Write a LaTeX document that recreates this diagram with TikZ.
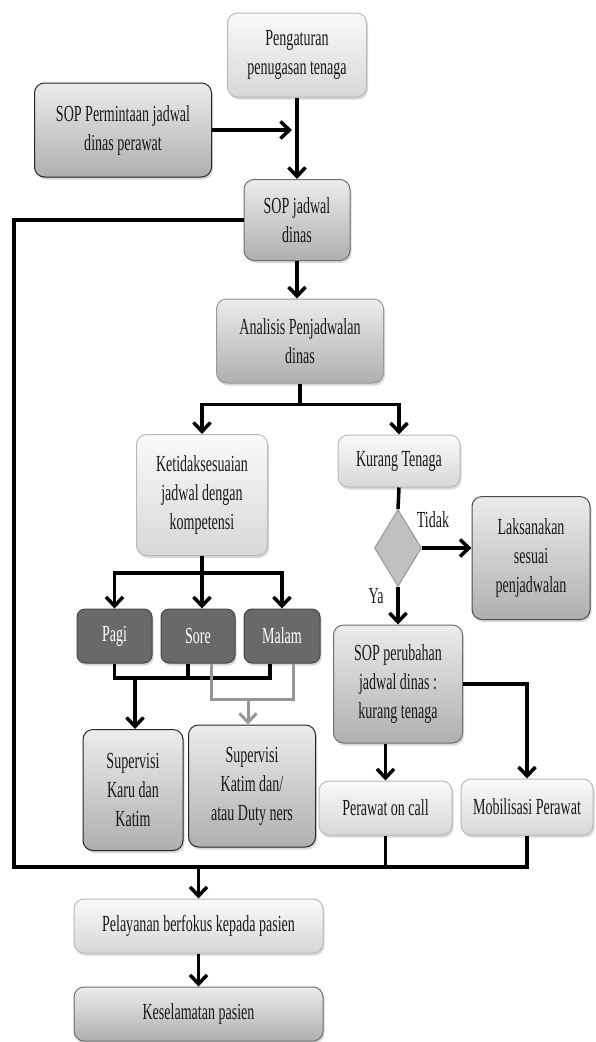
\documentclass[tikz,border=0pt]{standalone}
\usepackage{fontspec}
\setmainfont{Liberation Serif}[FakeStretch=0.61]
\usepackage{tikz}
\usetikzlibrary{shapes.geometric, arrows.meta, shadows}
\definecolor{lighttop}{RGB}{250,250,250}
\definecolor{lightbot}{RGB}{215,215,215}
\definecolor{lightedge}{RGB}{185,185,185}
\definecolor{midtop}{RGB}{236,236,236}
\definecolor{midbot}{RGB}{175,175,175}
\definecolor{midedge}{RGB}{110,110,110}
\definecolor{darkfill}{RGB}{105,105,105}
\definecolor{darkedge}{RGB}{70,70,70}
\definecolor{diafill}{RGB}{192,192,192}
\definecolor{linegrey}{RGB}{150,150,150}
\definecolor{inkblack}{RGB}{25,25,25}

\begin{document}
\begin{tikzpicture}[x=1pt, y=-1pt,
  font=\fontsize{23}{29}\selectfont, text=inkblack,
  >={Straight Barb[length=9pt,width=17pt]},
  every node/.style={align=center, inner sep=2pt},
  lightbox/.style={rounded corners=10pt, draw=lightedge, line width=1pt,
    top color=lighttop, bottom color=lightbot,
    drop shadow={shadow xshift=1.5pt, shadow yshift=-2.5pt, opacity=0.3}},
  midbox/.style={rounded corners=10pt, draw=midedge, line width=1pt,
    top color=midtop, bottom color=midbot,
    drop shadow={shadow xshift=1.5pt, shadow yshift=-2.5pt, opacity=0.3}},
  darkbox/.style={rounded corners=8pt, fill=darkfill, draw=darkedge, line width=1pt,
    text=white, minimum height=54pt,
    drop shadow={shadow xshift=1.5pt, shadow yshift=-2.5pt, opacity=0.3}},
  decision/.style={diamond, fill=diafill, draw=linegrey, line width=1pt, inner sep=0pt},
  link/.style={line width=3.5pt},
  greylink/.style={line width=3pt, draw=linegrey}]
\useasboundingbox (0,0) rectangle (595,1042);

% upper part
\node[lightbox, minimum width=139pt, minimum height=84pt] (peng) at (297,55) {Pengaturan\\penugasan tenaga};
\node[midbox, draw=black!85, minimum width=177pt, minimum height=94pt] (sopminta) at (123,130) {SOP Permintaan jadwal\\dinas perawat};
\node[midbox, minimum width=106pt, minimum height=81pt] (sopjadwal) at (297,220) {SOP jadwal\\dinas};
\node[midbox, draw=midedge!70, minimum width=167pt, minimum height=84pt] (analisis) at (300,341) {Analisis Penjadwalan\\dinas};

% left branch
\node[lightbox, minimum width=131pt, minimum height=121pt] (ketidak) at (202,495) {Ketidaksesuaian\\jadwal dengan\\kompetensi};
\node[darkbox, minimum width=75pt] (pagi) at (114.5,636) {Pagi};
\node[darkbox, minimum width=74pt] (sore) at (198,636) {Sore};
\node[darkbox, minimum width=76pt] (malam) at (282,636) {Malam};
\node[midbox, draw=black!85, minimum width=100pt, minimum height=121pt] (supkaru) at (133,790) {Supervisi\\Karu dan\\Katim};
\node[midbox, draw=black!85, minimum width=127pt, minimum height=122pt] (supkatim) at (252,786) {Supervisi\\Katim dan/\\atau Duty ners};

% right branch
\node[lightbox, minimum width=122pt, minimum height=52pt] (kurang) at (399,461) {Kurang Tenaga};
\node[decision, minimum width=47pt, minimum height=77pt] (decide) at (398,548) {};
\node (tidak) at (433,520) {Tidak};
\node (ya) at (376,596) {Ya};
\node[midbox, draw=black!70, minimum width=118pt, minimum height=123pt] (laksana) at (531,558) {Laksanakan\\sesuai\\penjadwalan};
\node[midbox, minimum width=129pt, minimum height=118pt] (sopubah) at (398,684) {SOP perubahan\\jadwal dinas :\\kurang tenaga};
\node[lightbox, minimum width=133pt, minimum height=54pt] (oncall) at (385.5,808) {Perawat on call};
\node[lightbox, minimum width=132pt, minimum height=56pt] (mobil) at (527,807) {Mobilisasi Perawat};

% bottom
\node[lightbox, minimum width=249pt, minimum height=54pt] (layan) at (198.5,926) {Pelayanan berfokus kepada pasien};
\node[midbox, minimum width=249pt, minimum height=54pt] (selamat) at (198.5,1014) {Keselamatan pasien};

\coordinate (join) at (297,130);
\coordinate (loopend) at (14,867);
\coordinate (mergeK) at (135,678);
\coordinate (mergeG) at (248,699);

% connectors
\draw[link, ->] (peng.south) -- (sopjadwal.north);
\draw[link, ->, shorten >=5pt] (sopminta.east) -- (join);
\draw[link, ->] (sopjadwal.south) -- (sopjadwal.south |- analisis.north);
\draw[link] (sopjadwal.west) -| (loopend) -| (mobil.south);
\draw[link] (oncall.south) -- (oncall.south |- loopend);
\draw[link, ->] (layan.north |- loopend) -- (layan.north);
\draw[link, ->] (layan.south) -- (selamat.north);

\draw[link, ->] (analisis.south) -- ++(0,21) -| (ketidak.north);
\draw[link, ->] (analisis.south) ++(0,21) -| (kurang.north);

\draw[link, ->] (ketidak.south) -- ++(0,17) -| (pagi.north);
\draw[link, ->] (ketidak.south) ++(0,17) -| (malam.north);
\draw[link, ->] (ketidak.south) -- (ketidak.south |- sore.north);

\draw[link] (pagi.south) |- (mergeK) -| ([xshift=-12pt]malam.south);
\draw[link] ([xshift=-10pt]sore.south) -- ++(0,15);
\draw[link, ->] (mergeK) -- (mergeK |- supkaru.north);
\draw[greylink] ([xshift=13pt]sore.south) -- ++(0,36) -| ([xshift=11pt]malam.south);
\draw[greylink, ->] (mergeG) -- (mergeG |- supkatim.north);

\draw[link] (kurang.south) -- (decide.north);
\draw[link, ->] (decide.east) -- (decide.east -| laksana.west);
\draw[link, ->] (decide.south) -- (sopubah.north);
\draw[link, ->] (oncall.north |- sopubah.south) -- (oncall.north);
\draw[link, ->] (sopubah.east) -| (mobil.north);
\end{tikzpicture}
\end{document}
